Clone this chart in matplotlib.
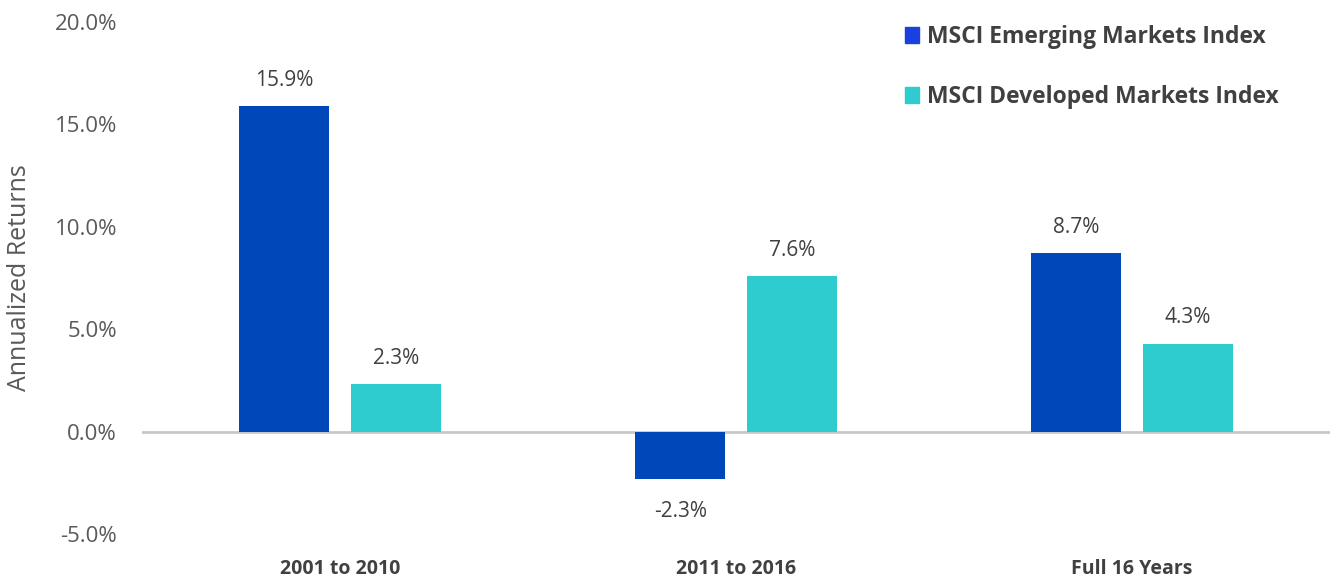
import numpy as np
import matplotlib
matplotlib.use("Agg")
import matplotlib.pyplot as plt
from matplotlib.patches import Patch

plt.rcParams['font.family'] = ['Open Sans', 'DejaVu Sans']

periods = ['2001 to 2010', '2011 to 2016', 'Full 16 Years']
emerging = [15.9, -2.3, 8.7]
developed = [2.3, 7.6, 4.3]
series_names = ['MSCI Emerging Markets Index', 'MSCI Developed Markets Index']

blue = '#0047BA'
cyan = '#2ECBCF'
text_gray = '#595959'
dark = '#404040'

fig = plt.figure(figsize=(13.32, 5.81), dpi=100)
ax = fig.add_axes([142 / 1332, 47 / 581, (1330 - 142) / 1332, (534 - 22) / 581])

x = np.arange(len(periods))
w = 0.228
off = 0.141
b1 = ax.bar(x - off, emerging, w, color=blue)
b2 = ax.bar(x + off, developed, w, color=cyan)

for bars in (b1, b2):
    for rect in bars:
        v = rect.get_height()
        xc = rect.get_x() + rect.get_width() / 2
        if v >= 0:
            ax.annotate(f'{v:.1f}%', (xc, v), xytext=(0, 11), textcoords='offset points',
                        ha='center', va='bottom', fontsize=15, color=dark)
        else:
            ax.annotate(f'{v:.1f}%', (xc, v), xytext=(0, -16), textcoords='offset points',
                        ha='center', va='top', fontsize=15, color=dark)

ax.axhline(0, color='#c8c8c8', lw=2, zorder=0)
ax.set_xlim(-0.5, 2.5)
ax.set_ylim(-5, 20)
ax.set_yticks([-5, 0, 5, 10, 15, 20])
ax.set_yticklabels([f'{t:.1f}%' for t in [-5, 0, 5, 10, 15, 20]])
ax.tick_params(axis='y', length=0, pad=18, labelsize=16, labelcolor=text_gray)
ax.set_xticks(x)
ax.set_xticklabels(periods, fontweight='bold', fontsize=14, color=dark)
ax.tick_params(axis='x', length=0, pad=18)
for s in ax.spines.values():
    s.set_visible(False)

ax.set_ylabel('Annualized Returns', fontsize=18, color=text_gray)
ax.yaxis.set_label_coords(-0.093, 0.5)

handles = [Patch(color='#1a40e0'), Patch(color=cyan)]
ax.legend(handles, series_names, loc='upper left', bbox_to_anchor=(0.625, 1.035),
          frameon=False, handlelength=0.6, handleheight=0.7, handletextpad=0.35,
          labelspacing=1.6, prop={'weight': 'bold', 'size': 16.5}, labelcolor=dark)

fig.savefig('out.png', dpi=100)
